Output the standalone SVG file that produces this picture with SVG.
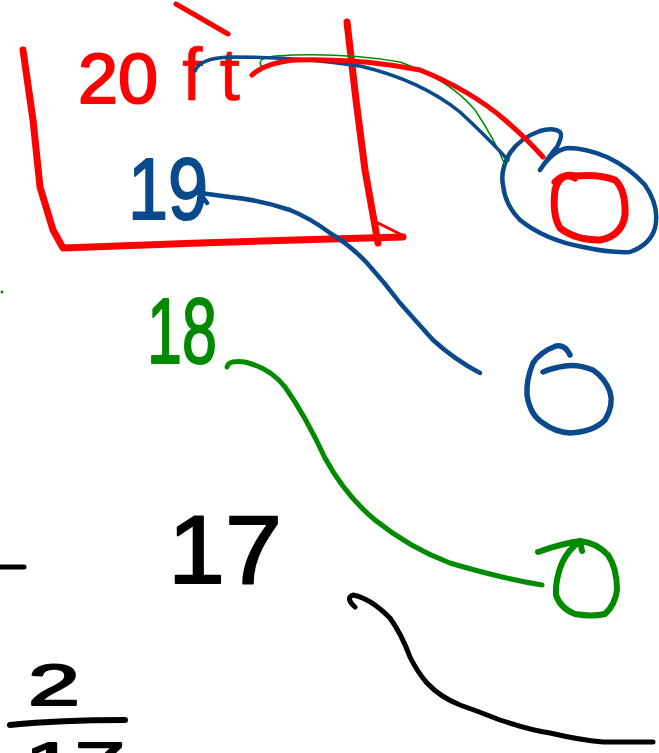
<svg xmlns="http://www.w3.org/2000/svg" width="659" height="753" viewBox="0 0 659 753">
<style>
.s{fill:none;stroke-linecap:round;stroke-linejoin:round}
.red{stroke:#ff0000;stroke-width:7}
.blue{stroke:#0a4a8c;stroke-width:4.5}
.grn{stroke:#008a00;stroke-width:6}
.thin{stroke:#008a00;stroke-width:1.5}
.blk{stroke:#000;stroke-width:5}
.t{font-family:"Liberation Sans",Arial,sans-serif;stroke-width:2;stroke-linejoin:round}
</style>
<rect width="659" height="753" fill="#fff"/>
<g id="box">
<path class="s red" d="M23,50 L33,120 L40,187 L53,230 L63,248 L200,243 L330,239 L403,237"/>
<path class="s red" d="M347,22 L356,100 L365,170 L378,243"/>
<path class="s red" d="M378,223 L402,235" style="stroke-width:3"/>
<path class="s red" d="M176,4 L228,34" style="stroke-width:5"/>
</g>
<g id="label-20">
<text class="t" x="78" y="103" font-size="70" fill="#ff0000" stroke="#ff0000" textLength="80" lengthAdjust="spacingAndGlyphs">20</text>
<text class="t" x="182" y="100" font-size="74" fill="#ff0000" stroke="#ff0000" style="stroke-width:0.5" textLength="58" lengthAdjust="spacing">ft</text>
</g>
<g id="node-red-circle">
<path class="s blue" d="M540,170 Q550,155 557,147 Q563,135 560,132 Q553,127 540,131 Q520,138 510,153 Q500,170 503,185 Q505,205 520,220 Q545,240 583,247 Q610,253 630,252 Q650,245 655,228 Q660,207 645,185 Q630,168 607,157 Q585,148 568,148 Q553,150 540,170"/>
<path class="s red" d="M555,182 Q565,172 575,178 M575,176 Q560,172 555,190 Q552,215 560,228 Q575,240 600,240 Q622,236 625,215 Q626,190 615,180 Q600,174 575,176"/>
</g>
<g id="label-19">
<text class="t" x="128" y="219" font-size="88" fill="#0a4a8c" stroke="#0a4a8c" textLength="80" lengthAdjust="spacingAndGlyphs">19</text>
</g>
<g id="node-blue-6">
<path class="s blue" style="stroke-width:5.5" d="M570,355 Q565,344 556,346 Q540,352 533,363 Q526,380 527,395 Q530,415 543,423 Q555,432 570,433 Q593,432 605,420 Q614,405 610,392 Q605,378 593,370 Q578,364 565,366 Q552,368 543,372"/>
</g>
<g id="label-18">
<text class="t" x="147" y="363" font-size="92" fill="#008a00" stroke="#008a00" textLength="70" lengthAdjust="spacingAndGlyphs">18</text>
</g>
<g id="node-green-0">
<path class="s grn" d="M538,552 Q560,544 580,541 L582,551 M580,541 Q568,550 562,563 Q555,580 556,595 Q560,608 575,614 Q592,617 605,614 Q615,605 617,590 Q617,568 608,555 Q597,543 580,541"/>
</g>
<g id="label-17">
<text class="t" x="168" y="583" font-size="96" fill="#000" stroke="#000" textLength="114" lengthAdjust="spacingAndGlyphs">17</text>
</g>
<g id="label-2">
<text class="t" x="28" y="705" font-size="58" fill="#000" stroke="#000" textLength="52" lengthAdjust="spacingAndGlyphs">2</text>
<text class="t" x="25" y="781" font-size="56" fill="#000" stroke="#000" textLength="100" lengthAdjust="spacingAndGlyphs">17</text>
</g>
<g id="connectors">
<path class="s thin" d="M262,67 Q255,58 275,56 Q340,52 400,62 Q450,80 475,110 Q495,140 505,165"/>
<path class="s blue" style="stroke-width:3.5" d="M195,71 Q200,58 230,57 Q300,57 360,66 Q420,80 460,112 Q490,140 508,160"/>
<path class="s red" style="stroke-width:5" d="M252,75 Q265,63 295,60 Q360,58 420,70 Q470,90 505,120 Q528,140 543,157"/>
<path class="s blue" d="M480,373 Q455,360 433,340 Q415,320 400,303 Q385,283 367,263 Q350,245 330,233 Q310,218 290,210 Q260,200 230,197 L200,193 L207,203"/>
<path class="s grn" style="stroke-width:5" d="M227,367 Q228,360 245,362 Q270,368 285,387 Q305,415 325,458 Q345,495 375,520 Q410,548 450,563 Q500,578 542,585"/>
<path class="s blk" d="M355,607 Q345,598 353,595 Q370,598 390,618 Q402,635 410,657 Q418,673 427,683 Q440,697 460,705 Q480,712 500,720 Q530,730 550,733 Q580,740 603,742 L653,742"/>
<path class="s blk" d="M0,567 L24,567"/>
<path class="s blk" style="stroke-width:6" d="M10,725 Q60,720 125,720"/>
<circle cx="2" cy="292" r="1.5" fill="#008a00"/>
</g>
</svg>
